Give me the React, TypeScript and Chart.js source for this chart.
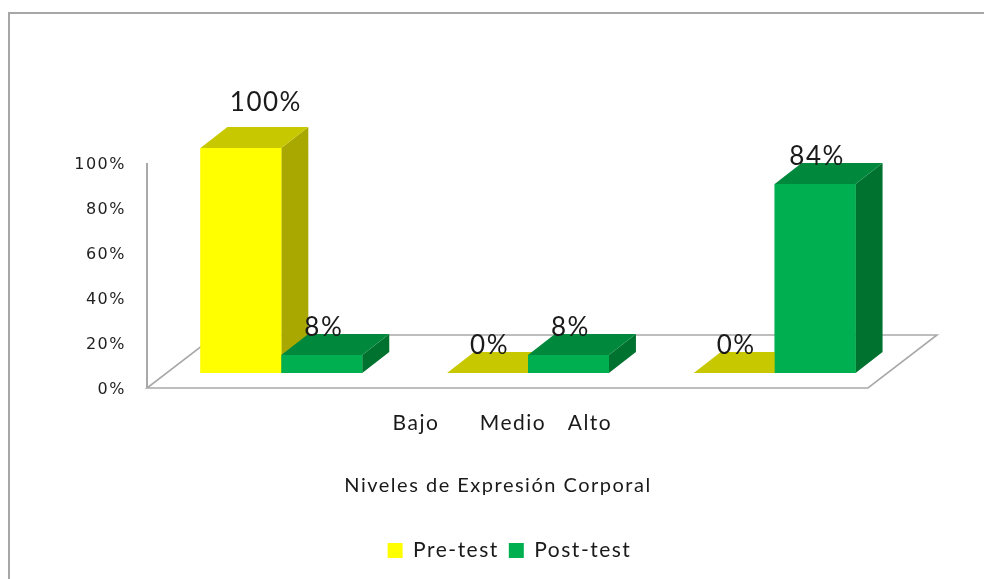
import React, { useEffect, useRef } from "react";
import { Chart, registerables } from "chart.js";

Chart.register(...registerables);

const CATEGORIES = ["Bajo", "Medio", "Alto"];
const PRE_TEST = [1.0, 0.0, 0.0];
const POST_TEST = [0.08, 0.08, 0.84];
const SERIES_NAMES = ["Pre-test", "Post-test"];
const Y_TICKS = [0, 0.2, 0.4, 0.6, 0.8, 1.0];
const AXIS_TITLE = "Niveles de Expresión Corporal";

const FRONT_COLORS = ["#FFFF00", "#00B050"];
const TOP_COLORS = ["#C8C800", "#00893D"];
const SIDE_COLORS = ["#A8A800", "#00722F"];

const DEPTH_X = 27;
const DEPTH_Y = -21;
const SHIFT_X = 11;
const SHIFT_Y = -15;
const LETTER_SPACING = "1.5px";

const pct = (v: number) => Math.round(v * 100) + "%";

const spacing = {
  id: "spacing",
  beforeUpdate(chart: any) {
    chart.ctx.letterSpacing = LETTER_SPACING;
  },
  beforeDraw(chart: any) {
    chart.ctx.letterSpacing = LETTER_SPACING;
  },
};

const bars3d = {
  id: "bars3d",
  beforeDatasetsDraw(chart: any) {
    const { ctx, chartArea, scales } = chart;
    const y0 = scales.y.getPixelForValue(0);
    const yTop = scales.y.getPixelForValue(1);
    ctx.save();
    ctx.strokeStyle = "#a9a9a9";
    ctx.lineWidth = 2;
    ctx.beginPath();
    ctx.moveTo(chartArea.left, yTop);
    ctx.lineTo(chartArea.left, y0);
    ctx.stroke();
    const fl = chartArea.left;
    const fr = chartArea.right - 19;
    ctx.lineWidth = 1.6;
    ctx.beginPath();
    ctx.moveTo(fl, y0);
    ctx.lineTo(fr, y0);
    ctx.lineTo(fr + 69, y0 - 53);
    ctx.lineTo(fl + 69, y0 - 53);
    ctx.closePath();
    ctx.stroke();
    ctx.restore();
    ctx.save();
    ctx.translate(SHIFT_X, SHIFT_Y);
  },
  afterDatasetsDraw(chart: any) {
    const { ctx, scales } = chart;
    const metas = chart.getSortedVisibleDatasetMetas();
    const n = chart.data.labels.length;
    const poly = (pts: number[][], color: string) => {
      ctx.fillStyle = color;
      ctx.beginPath();
      ctx.moveTo(pts[0][0], pts[0][1]);
      for (let k = 1; k < pts.length; k++) ctx.lineTo(pts[k][0], pts[k][1]);
      ctx.closePath();
      ctx.fill();
    };
    for (let i = 0; i < n; i++) {
      for (const meta of metas) {
        const bar = meta.data[i];
        if (!bar) continue;
        const { x, y, base, width } = bar.getProps(["x", "y", "base", "width"], true);
        const x0 = x - width / 2;
        const x1 = x + width / 2;
        const di = meta.index;
        poly(
          [
            [x1, y],
            [x1 + DEPTH_X, y + DEPTH_Y],
            [x1 + DEPTH_X, base + DEPTH_Y],
            [x1, base],
          ],
          SIDE_COLORS[di]
        );
        poly(
          [
            [x0, y],
            [x0 + DEPTH_X, y + DEPTH_Y],
            [x1 + DEPTH_X, y + DEPTH_Y],
            [x1, y],
          ],
          TOP_COLORS[di]
        );
        bar.draw(ctx);
      }
    }
    ctx.fillStyle = "#1a1a1a";
    ctx.font = "26px Lato";
    ctx.textAlign = "center";
    ctx.textBaseline = "middle";
    const yMax = scales.y.max;
    for (const meta of metas) {
      const values = chart.data.datasets[meta.index].data;
      meta.data.forEach((bar: any, i: number) => {
        const { x, y } = bar.getProps(["x", "y"], true);
        if (values[i] >= yMax) {
          ctx.fillText(pct(values[i]), x + DEPTH_X - 2, y + DEPTH_Y - 24);
        } else {
          ctx.fillText(pct(values[i]), x + 2, y - 27);
        }
      });
    }
    ctx.restore();
  },
  afterDraw(chart: any) {
    const { ctx, chartArea } = chart;
    const cx = (chartArea.left + chartArea.right) / 2;
    const offs = [-101, -4, 73];
    ctx.save();
    ctx.fillStyle = "#1a1a1a";
    ctx.textAlign = "center";
    ctx.textBaseline = "middle";
    ctx.font = "21px Lato";
    CATEGORIES.forEach((c, i) => ctx.fillText(c, cx + offs[i], 409));
    ctx.font = "20px Lato";
    ctx.fillText(AXIS_TITLE, cx - 19, 472);
    ctx.restore();
  },
};

export default function App() {
  const ref = useRef<HTMLCanvasElement | null>(null);
  useEffect(() => {
    if (!ref.current) return;
    const chart = new Chart(ref.current, {
      type: "bar",
      data: {
        labels: CATEGORIES,
        datasets: [
          {
            label: SERIES_NAMES[0],
            data: PRE_TEST,
            backgroundColor: FRONT_COLORS[0],
            borderWidth: 0,
            clip: false as any,
            categoryPercentage: 0.656,
            barPercentage: 1.0,
          },
          {
            label: SERIES_NAMES[1],
            data: POST_TEST,
            backgroundColor: FRONT_COLORS[1],
            borderWidth: 0,
            clip: false as any,
            categoryPercentage: 0.656,
            barPercentage: 1.0,
          },
        ],
      },
      options: {
        responsive: false,
        animation: false,
        layout: { padding: { top: 149, left: 17, right: 0, bottom: 8 } },
        plugins: {
          legend: {
            position: "bottom",
            labels: {
              boxWidth: 15,
              boxHeight: 15,
              padding: 10,
              color: "#1a1a1a",
              font: { family: "Lato", size: 21 },
            },
          },
          tooltip: { enabled: false },
        },
        scales: {
          x: {
            type: "category",
            display: true,
            grid: { display: false },
            border: { display: false },
            ticks: { display: false },
            afterFit: (s: any) => {
              s.height = 142;
            },
          },
          y: {
            min: 0,
            max: 1,
            position: "left",
            grid: { display: false },
            border: { display: false },
            afterBuildTicks: (s: any) => {
              s.ticks = Y_TICKS.map((v) => ({ value: v }));
            },
            ticks: {
              padding: 13,
              labelOffset: 2,
              color: "#1f1f1f",
              font: { family: "DejaVu Sans", size: 16 },
              callback: (v: any) => pct(Number(v)),
            },
            afterFit: (s: any) => {
              s.width = 120;
            },
          },
          yR: {
            position: "right",
            display: true,
            grid: { display: false },
            border: { display: false },
            ticks: { display: false },
            afterFit: (s: any) => {
              s.width = 105;
            },
          },
        },
      },
      plugins: [spacing, bars3d],
    });
    return () => chart.destroy();
  }, []);
  return (
    <div
      style={{
        marginTop: 4,
        borderTop: "2px solid #a6a6a6",
        borderLeft: "2px solid #a6a6a6",
        width: 982,
        height: 565,
        background: "#fff",
      }}
    >
      <canvas ref={ref} width={982} height={565} style={{ display: "block" }} />
    </div>
  );
}
